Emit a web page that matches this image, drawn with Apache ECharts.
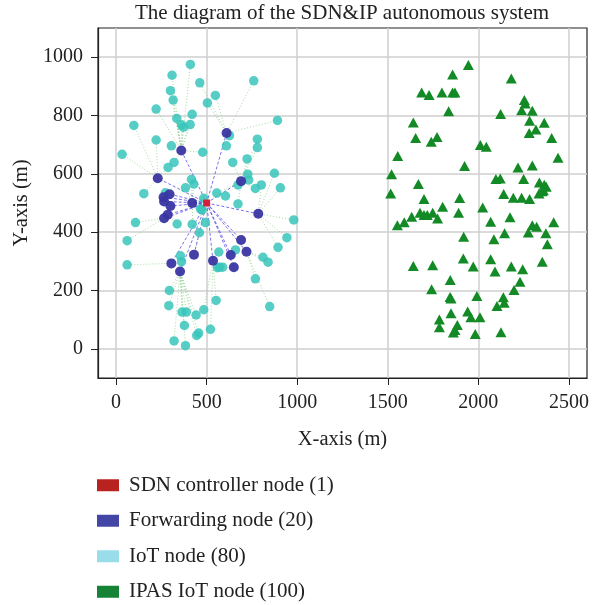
<!DOCTYPE html>
<html>
<head>
<meta charset="utf-8">
<script src="https://cdn.jsdelivr.net/npm/echarts@6/dist/echarts.min.js"></script>
<style>
  html, body { margin: 0; padding: 0; background: #fff; }
  #chart { width: 603px; height: 605px; }
</style>
</head>
<body>
<div id="chart"></div>
<script>
const xTicks = [0, 500, 1000, 1500, 2000, 2500];
const yTicks = [0, 200, 400, 600, 800, 1000];

const controller = [[500, 500]];

const forwarding = [
  [610, 740], [360, 680], [230, 585], [690, 575], [295, 530], [265, 505], [300, 490],
  [285, 460], [265, 448], [420, 500], [785, 463], [690, 373], [720, 333], [633, 322],
  [650, 280], [535, 302], [430, 323], [305, 293], [353, 265], [262, 520]
];

const iot = [
  [410, 975], [309, 938], [462, 912], [760, 919], [300, 885], [315, 853], [548, 869], [504, 843],
  [221, 822], [891, 783], [98, 766], [335, 790], [420, 804], [361, 768], [409, 769], [626, 731],
  [780, 719], [780, 690], [221, 716], [609, 696], [305, 696], [478, 674], [33, 667], [723, 651],
  [644, 639], [320, 639], [287, 622], [727, 599], [874, 602], [732, 579], [416, 581], [802, 562],
  [769, 550], [907, 552], [673, 562], [383, 552], [556, 534], [604, 524], [153, 532], [272, 535],
  [429, 565], [673, 497], [484, 516], [475, 476], [493, 433], [420, 427], [337, 428], [460, 398],
  [107, 433], [61, 371], [61, 288], [981, 442], [943, 381], [894, 348], [811, 314], [839, 297],
  [769, 240], [848, 145], [659, 339], [567, 332], [570, 280], [588, 280], [355, 319], [361, 299],
  [294, 200], [291, 148], [364, 126], [388, 126], [442, 116], [484, 134], [552, 166], [377, 80],
  [456, 54], [445, 46], [521, 67], [320, 27], [383, 11], [372, 760], [560, 278], [466, 480]
];

const ipas = [
  [1945, 973], [1858, 941], [2182, 927], [1687, 879], [1728, 870], [1799, 879], [1858, 879], [1871, 879],
  [2254, 853], [2259, 841], [2239, 818], [2298, 816], [1836, 815], [2123, 805], [2283, 782], [2364, 775],
  [1641, 776], [2318, 752], [2281, 740], [2405, 723], [1654, 723], [1772, 726], [1740, 710], [2011, 699],
  [2044, 693], [1555, 661], [2440, 655], [1924, 627], [2219, 622], [2298, 629], [1521, 599], [2097, 582],
  [2121, 584], [2250, 582], [1669, 565], [2337, 570], [2364, 563], [2375, 556], [1516, 533], [2140, 531],
  [2193, 518], [2239, 518], [2283, 514], [2335, 533], [2359, 544], [1700, 514], [1897, 517], [1803, 487],
  [2024, 485], [1678, 467], [1700, 459], [1718, 459], [1748, 467], [1775, 447], [1632, 453], [1591, 434],
  [1553, 424], [1891, 467], [2068, 436], [2175, 451], [2298, 424], [2322, 419], [2416, 434], [2276, 399],
  [2373, 396], [2381, 359], [2145, 396], [2086, 376], [1919, 384], [1917, 310], [2068, 307], [1972, 282],
  [2092, 265], [2182, 282], [2245, 273], [2353, 299], [1641, 284], [1748, 287], [1845, 236], [2230, 230],
  [2197, 202], [1742, 204], [1844, 178], [1849, 173], [1992, 181], [2138, 177], [2143, 158], [2103, 147],
  [1849, 122], [1941, 128], [1959, 108], [2009, 108], [1785, 101], [1785, 74], [1884, 82], [1871, 65],
  [1862, 56], [1983, 51], [2125, 57], [2352, 540]
];

const names = ['SDN controller node (1)', 'Forwarding node (20)', 'IoT node (80)', 'IPAS IoT node (100)'];

// controller -> every forwarding node
const ctrlLinks = forwarding.map(f => ({ coords: [controller[0], f] }));

// each IoT node hangs on its closest forwarding node
const iotLinks = iot.map(p => {
  let best = forwarding[0], bd = Infinity;
  forwarding.forEach(f => {
    const d = (f[0] - p[0]) ** 2 + (f[1] - p[1]) ** 2;
    if (d < bd) { bd = d; best = f; }
  });
  return { coords: [best, p] };
});

const font = 'Liberation Serif, Times New Roman, serif';
const plain = v => String(v);
const chart = echarts.init(document.getElementById('chart'));

chart.setOption({
  animation: false,
  title: {
    text: 'The diagram of the SDN&IP autonomous system',
    left: 130, top: -2,
    textStyle: { fontFamily: font, fontSize: 21, fontWeight: 'normal', color: '#222' }
  },
  grid: {
    left: 98, right: 16, top: 28, bottom: 227,
    show: true, borderColor: '#222', borderWidth: 1.2
  },
  legend: {
    orient: 'vertical', left: 97, top: 473, height: 133, padding: 0,
    itemWidth: 22, itemHeight: 12, itemGap: 11,
    icon: 'rect',
    itemStyle: { borderWidth: 0 },
    textStyle: { fontFamily: font, fontSize: 21, lineHeight: 24.5, color: '#222', padding: [0, 0, 0, 5] },
    data: [
      { name: names[0], itemStyle: { color: '#b8231f', opacity: 1, borderWidth: 0 } },
      { name: names[1], itemStyle: { color: '#4446a6', opacity: 1, borderWidth: 0 } },
      { name: names[2], itemStyle: { color: '#99dcea', opacity: 1, borderWidth: 0 } },
      { name: names[3], itemStyle: { color: '#168236', opacity: 1, borderWidth: 0 } }
    ]
  },
  xAxis: {
    type: 'value', min: -100, max: 2600, minInterval: 500, maxInterval: 500,
    name: 'X-axis (m)', nameLocation: 'middle', nameGap: 51,
    nameTextStyle: { fontFamily: font, fontSize: 20.5, color: '#222' },
    axisLine: { show: true, onZero: false, lineStyle: { color: '#222', width: 1.2 } },
    axisTick: { show: true, length: 7, lineStyle: { color: '#222' }, customValues: xTicks },
    axisLabel: { fontFamily: font, fontSize: 20, color: '#222', margin: 15, customValues: xTicks, formatter: plain },
    splitLine: { show: true, lineStyle: { color: '#cfcfcf', width: 1.5 } }
  },
  yAxis: {
    type: 'value', min: -100, max: 1100, minInterval: 200, maxInterval: 200,
    name: 'Y-axis (m)', nameLocation: 'middle', nameGap: 64,
    nameTextStyle: { fontFamily: font, fontSize: 20.5, color: '#222' },
    axisLine: { show: true, onZero: false, lineStyle: { color: '#222', width: 1.2 } },
    axisTick: { show: true, length: 7, lineStyle: { color: '#222' }, customValues: yTicks },
    axisLabel: { fontFamily: font, fontSize: 20, color: '#222', margin: 15, customValues: yTicks, formatter: plain },
    splitLine: { show: true, lineStyle: { color: '#cfcfcf', width: 1.5 } }
  },
  series: [
    {
      type: 'lines', coordinateSystem: 'cartesian2d', silent: true, z: 1,
      data: iotLinks,
      lineStyle: { color: '#8fd08a', width: 1, type: [1, 2], opacity: 0.8 }
    },
    {
      type: 'lines', coordinateSystem: 'cartesian2d', silent: true, z: 1,
      data: ctrlLinks,
      lineStyle: { color: '#5a4ee6', width: 1, type: [3, 2], opacity: 0.8 }
    },
    {
      name: names[2], type: 'scatter', z: 2, data: iot,
      symbol: 'circle', symbolSize: 9.5,
      itemStyle: { color: '#38c6bb', opacity: 0.85 }
    },
    {
      name: names[1], type: 'scatter', z: 3, data: forwarding,
      symbol: 'circle', symbolSize: 10,
      itemStyle: { color: '#3a36a2', opacity: 0.95 }
    },
    {
      name: names[0], type: 'scatter', z: 4, data: controller,
      symbol: 'rect', symbolSize: 7,
      itemStyle: { color: '#d4203a', opacity: 1 }
    },
    {
      name: names[3], type: 'scatter', z: 2, data: ipas,
      symbol: 'triangle', symbolSize: [11, 10],
      itemStyle: { color: '#138a25', opacity: 1 }
    }
  ]
});
</script>
</body>
</html>
